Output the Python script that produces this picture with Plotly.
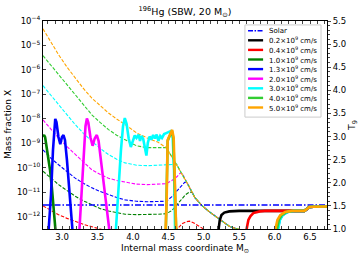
import plotly.graph_objects as go

# ---------------- data ----------------
SERIES = ["0.2", "0.4", "1.0", "1.3", "2.0", "3.0", "4.0", "5.0"]
COLORS = ["#000000", "#ff0000", "#008000", "#0000ff", "#ff00ff", "#00ffff", "#32cd32", "#ffa500"]

# solid lines: final mass fraction of 196Hg, given as log10(X) (left axis)
X_BLACK = [2.73, 5.19, 5.21, 5.225, 5.25, 5.29, 5.36, 5.50, 6.00, 6.42, 6.46, 6.49, 6.55, 6.74]
LX_BLACK = [-13.5, -13.5, -12.5, -12.15, -11.93, -11.83, -11.78, -11.76, -11.76, -11.76, -11.68, -11.60, -11.59, -11.58]

X_RED = [2.73, 5.59, 5.605, 5.63, 5.66, 5.70, 5.79, 5.86, 6.42, 6.46, 6.49, 6.55, 6.74]
LX_RED = [-13.5, -13.5, -12.5, -12.13, -11.97, -11.85, -11.78, -11.76, -11.76, -11.68, -11.60, -11.59, -11.58]

X_GREEN = [2.73, 2.745, 2.76, 2.78, 2.805, 2.83, 2.855, 2.875, 2.895, 2.905, 2.92,
           6.02, 6.035, 6.06, 6.10, 6.17, 6.26, 6.42, 6.46, 6.49, 6.55, 6.74]
LX_GREEN = [-8.73, -8.66, -8.75, -9.14, -9.6, -10.1, -10.8, -11.4, -12.2, -12.5, -13.5,
            -13.5, -12.5, -12.13, -11.93, -11.80, -11.76, -11.76, -11.68, -11.60, -11.59, -11.58]

X_BLUE = [2.73, 2.79, 2.81, 2.843, 2.871, 2.889, 2.903, 2.92, 2.948, 2.974, 2.998, 3.019, 3.04,
          3.068, 3.097, 3.124, 3.145, 3.16,
          6.03, 6.045, 6.07, 6.11, 6.18, 6.27, 6.42, 6.46, 6.49, 6.55, 6.74]
LX_BLUE = [-13.5, -13.5, -12.5, -11.1, -9.27, -8.25, -8.0, -8.13, -8.74, -9.03, -8.74, -8.66, -8.86,
           -9.68, -10.78, -11.72, -12.5, -13.5,
           -13.5, -12.5, -12.13, -11.93, -11.80, -11.76, -11.76, -11.68, -11.60, -11.59, -11.58]

X_MAGENTA = [2.73, 3.23, 3.245, 3.275, 3.31, 3.33, 3.35, 3.37, 3.40, 3.43, 3.46, 3.49, 3.515,
             3.55, 3.59, 3.63, 3.665, 3.68,
             6.025, 6.04, 6.065, 6.105, 6.175, 6.265, 6.42, 6.46, 6.49, 6.55, 6.74]
LX_MAGENTA = [-13.5, -13.5, -12.5, -11.1, -9.3, -8.3, -7.98, -8.15, -8.75, -9.1, -8.8, -8.66, -8.9,
              -9.7, -10.8, -11.7, -12.5, -13.5,
              -13.5, -12.5, -12.13, -11.93, -11.80, -11.76, -11.76, -11.68, -11.60, -11.59, -11.58]

X_CYAN = [2.73, 3.745, 3.76, 3.79, 3.83, 3.86, 3.885, 3.91, 3.94, 3.97, 4.00, 4.025, 4.05, 4.08,
          4.10, 4.12, 4.145, 4.17, 4.19, 4.21, 4.235, 4.26, 4.285, 4.31, 4.335, 4.36, 4.385, 4.41,
          4.44, 4.47, 4.50, 4.53, 4.56, 4.58, 4.595, 4.61,
          6.035, 6.05, 6.075, 6.115, 6.185, 6.275, 6.42, 6.46, 6.49, 6.55, 6.74]
LX_CYAN = [-13.5, -13.5, -12.5, -11.0, -9.3, -8.3, -7.97, -8.2, -8.8, -9.15, -8.85, -8.68, -8.78, -8.65,
           -8.90, -8.70, -8.82, -9.15, -9.50, -8.98, -8.72, -8.85, -8.66, -8.80, -8.64, -8.90, -8.70, -8.78,
           -8.62, -8.58, -8.55, -8.5, -8.7, -10.0, -12.5, -13.5,
           -13.5, -12.5, -12.13, -11.93, -11.80, -11.76, -11.76, -11.68, -11.60, -11.59, -11.58]

X_LGREEN = [2.73, 4.455, 4.465, 4.475, 4.49, 4.51, 4.53, 4.55, 4.57, 4.59, 4.605, 4.62,
            6.02, 6.035, 6.06, 6.10, 6.17, 6.26, 6.42, 6.46, 6.49, 6.55, 6.74]
LX_LGREEN = [-13.5, -13.5, -12.5, -10.5, -8.9, -8.75, -8.6, -8.5, -8.8, -10.5, -12.5, -13.5,
             -13.5, -12.5, -12.13, -11.93, -11.80, -11.76, -11.76, -11.68, -11.60, -11.59, -11.58]

X_ORANGE = [2.73, 4.455, 4.462, 4.476, 4.49, 4.512, 4.533, 4.554, 4.575, 4.596, 4.61, 4.62,
            6.0, 6.012, 6.04, 6.08, 6.15, 6.24, 6.42, 6.46, 6.49, 6.55, 6.74]
LX_ORANGE = [-13.5, -13.5, -12.5, -11.3, -8.86, -8.74, -8.58, -8.45, -8.78, -10.5, -12.5, -13.5,
             -13.5, -12.5, -12.13, -11.93, -11.80, -11.76, -11.76, -11.68, -11.60, -11.59, -11.58]

SOLID_X = [X_BLACK, X_RED, X_GREEN, X_BLUE, X_MAGENTA, X_CYAN, X_LGREEN, X_ORANGE]
SOLID_LX = [LX_BLACK, LX_RED, LX_GREEN, LX_BLUE, LX_MAGENTA, LX_CYAN, LX_LGREEN, LX_ORANGE]

# dashed lines: peak temperature T9 (right axis)
TAIL_X = [4.47, 4.59, 4.66, 4.73, 4.80, 4.87, 4.965, 5.08, 5.20, 5.36, 5.45, 5.55, 5.65]
TAIL_T9 = [2.76, 2.46, 2.28, 2.10, 1.90, 1.69, 1.52, 1.37, 1.24, 1.06, 1.01, 0.97, 0.93]

GRID_X = [2.73, 2.85, 2.95, 3.07, 3.185, 3.30, 3.42, 3.54, 3.655, 3.77, 3.89, 4.05, 4.20, 4.35]

T9X_RED = [2.73, 2.85, 2.95, 3.07, 3.185, 3.30, 3.42, 3.54, 3.65, 4.50, 4.60, 4.65, 4.70, 4.76,
           4.80, 4.86, 4.92, 4.98, 5.05]
T9_RED = [1.50, 1.40, 1.31, 1.23, 1.16, 1.10, 1.05, 0.99, 0.95, 0.90, 0.96, 1.04, 1.12, 1.16,
          1.17, 1.13, 1.07, 1.01, 0.95]

T9X_GREEN = GRID_X + [4.47, 4.55, 4.62, 4.68, 4.74, 4.80, 4.84]
T9_GREEN = [2.25, 2.08, 1.96, 1.83, 1.71, 1.61, 1.52, 1.44, 1.39, 1.35, 1.32, 1.31, 1.31, 1.32,
            1.33, 1.40, 1.52, 1.63, 1.74, 1.80, 1.79]

T9X_BLUE = GRID_X + [4.47, 4.55, 4.62, 4.68, 4.73, 4.76]
T9_BLUE = [2.71, 2.52, 2.39, 2.24, 2.10, 1.99, 1.89, 1.81, 1.74, 1.68, 1.63, 1.60, 1.59, 1.59,
           1.60, 1.70, 1.82, 1.94, 2.01, 2.01]

T9X_MAGENTA = GRID_X + [4.47, 4.55, 4.62, 4.67, 4.70]
T9_MAGENTA = [3.36, 3.14, 2.97, 2.78, 2.61, 2.44, 2.28, 2.18, 2.10, 2.05, 2.01, 1.97, 1.96, 1.97,
              1.98, 2.05, 2.13, 2.21, 2.20]

T9X_CYAN = GRID_X + [4.47, 4.57, 4.62]
T9_CYAN = [4.10, 3.87, 3.69, 3.47, 3.26, 3.07, 2.90, 2.74, 2.61, 2.51, 2.43, 2.38, 2.37, 2.38,
           2.39, 2.41, 2.40]

T9X_LGREEN = GRID_X + [4.47]
T9_LGREEN = [4.75, 4.53, 4.34, 4.11, 3.90, 3.68, 3.47, 3.30, 3.15, 3.03, 2.93, 2.80, 2.76, 2.76, 2.76]

T9X_ORANGE = list(GRID_X)
T9_ORANGE = [5.33, 5.02, 4.77, 4.50, 4.27, 4.04, 3.83, 3.66, 3.51, 3.38, 3.26, 3.08, 2.97, 2.88]

# (series index, x, T9, uses common tail)
DASHED = [(1, T9X_RED, T9_RED, False), (2, T9X_GREEN, T9_GREEN, True), (3, T9X_BLUE, T9_BLUE, True),
          (4, T9X_MAGENTA, T9_MAGENTA, True), (5, T9X_CYAN, T9_CYAN, True),
          (6, T9X_LGREEN, T9_LGREEN, True), (7, T9X_ORANGE, T9_ORANGE, True)]

SOLAR_X = [2.73, 6.74]
SOLAR_LX = [-11.52, -11.52]

X_TICKS = [3.0, 3.5, 4.0, 4.5, 5.0, 5.5, 6.0, 6.5]
LOG_TICKS = [-12, -11, -10, -9, -8, -7, -6, -5, -4]
T9_TICKS = [1.0, 1.5, 2.0, 2.5, 3.0, 3.5, 4.0, 4.5, 5.0, 5.5]

# ---------------- figure ----------------
FONT = "DejaVu Sans"
fig = go.Figure()

for idx, xs, ts, tail in DASHED:
    xx, yy = list(xs), list(ts)
    if tail:
        for tx, tt in zip(TAIL_X, TAIL_T9):
            if tx > xx[-1]:
                xx.append(tx)
                yy.append(tt)
    fig.add_trace(go.Scatter(x=xx, y=yy, mode="lines", yaxis="y", hoverinfo="skip",
                             line=dict(color=COLORS[idx], width=1.1, dash="3.5px,1.6px")))

fig.add_trace(go.Scatter(x=SOLAR_X, y=[10 ** v for v in SOLAR_LX], mode="lines", yaxis="y2",
                         hoverinfo="skip",
                         line=dict(color="#0000ff", width=1.6, dash="6px,2px,1.5px,2px")))

for xs, lx, c in zip(SOLID_X, SOLID_LX, COLORS):
    fig.add_trace(go.Scatter(x=xs, y=[10 ** v for v in lx], mode="lines", yaxis="y2",
                             hoverinfo="skip", line=dict(color=c, width=2.6)))

# manual legend (matplotlib style)
L_X0, L_X1 = 0.711, 0.979
L_Y0, L_Y1 = 0.538, 0.981
shapes = [dict(type="rect", xref="paper", yref="paper", x0=L_X0, x1=L_X1, y0=L_Y0, y1=L_Y1,
               line=dict(color="#cccccc", width=1), fillcolor="rgba(255,255,255,0.8)", layer="above")]
annotations = []
labels = ["Solar"] + [s + "×10<sup>9</sup> cm/s" for s in SERIES]
lcolors = ["#0000ff"] + COLORS
for i, (lab, c) in enumerate(zip(labels, lcolors)):
    yy = (229 - (30.7 + 9.6 * i)) / 208
    if i == 0:
        ln = dict(color=c, width=1.5, dash="5px,1.5px,1.5px,1.5px")
    else:
        ln = dict(color=c, width=2.4)
    shapes.append(dict(type="line", xref="paper", yref="paper", x0=0.722, x1=0.775, y0=yy, y1=yy,
                       line=ln, layer="above"))
    annotations.append(dict(xref="paper", yref="paper", x=0.790, y=yy, text=lab, showarrow=False,
                            xanchor="left", yanchor="middle", font=dict(family=FONT, size=7, color="black")))

# axis titles
annotations.append(dict(xref="paper", yref="paper", x=0.5, y=-0.093, text="Internal mass coordinate M<sub>⊙</sub>",
                        showarrow=False, xanchor="center", yanchor="middle",
                        font=dict(family=FONT, size=9, color="black")))
annotations.append(dict(xref="paper", yref="paper", x=-0.123, y=0.5, text="Mass fraction X", textangle=-90,
                        showarrow=False, xanchor="center", yanchor="middle",
                        font=dict(family=FONT, size=9, color="black")))
annotations.append(dict(xref="paper", yref="paper", x=1.088, y=0.5, text="T<sub>9</sub>", textangle=-90,
                        showarrow=False, xanchor="center", yanchor="middle",
                        font=dict(family=FONT, size=9.5, color="black")))

fig.update_layout(
    width=360, height=270,
    margin=dict(l=43, r=33, t=21, b=41),
    paper_bgcolor="white", plot_bgcolor="white",
    showlegend=False,
    font=dict(family=FONT, size=8.5, color="black"),
    title=dict(text="<sup>196</sup>Hg (SBW, 20 M<sub>⊙</sub>)", x=0.514, xanchor="center",
               y=0.955, yanchor="middle", yref="container", font=dict(family=FONT, size=9.5)),
    xaxis=dict(range=[2.73, 6.74], tickvals=X_TICKS, ticktext=["%.1f" % v for v in X_TICKS],
               ticks="inside", ticklen=3, showline=True, linecolor="black", linewidth=1,
               mirror="allticks", showgrid=False, zeroline=False,
               minor=dict(ticks="inside", ticklen=1.5, dtick=0.1, tick0=3.0)),
    yaxis=dict(range=[1.0, 5.5], tickvals=T9_TICKS, ticktext=["%.1f" % v for v in T9_TICKS],
               side="right", ticks="outside", ticklen=3, showline=True, linecolor="black",
               linewidth=1, showgrid=False, zeroline=False,
               minor=dict(ticks="outside", ticklen=1.5, dtick=0.1, tick0=1.0)),
    yaxis2=dict(type="log", range=[-12.5, -4], overlaying="y", side="left",
                tickvals=[10 ** v for v in LOG_TICKS],
                ticktext=["10<sup>\u2212%d</sup>" % (-v) for v in LOG_TICKS],
                ticks="inside", ticklen=3, showline=True, linecolor="black", linewidth=1,
                showgrid=False, zeroline=False),
    shapes=shapes, annotations=annotations,
)

fig.write_html("out.html", config={"displayModeBar": False, "staticPlot": True},
               post_script="document.body.style.margin='0px';document.body.style.overflow='hidden';")
